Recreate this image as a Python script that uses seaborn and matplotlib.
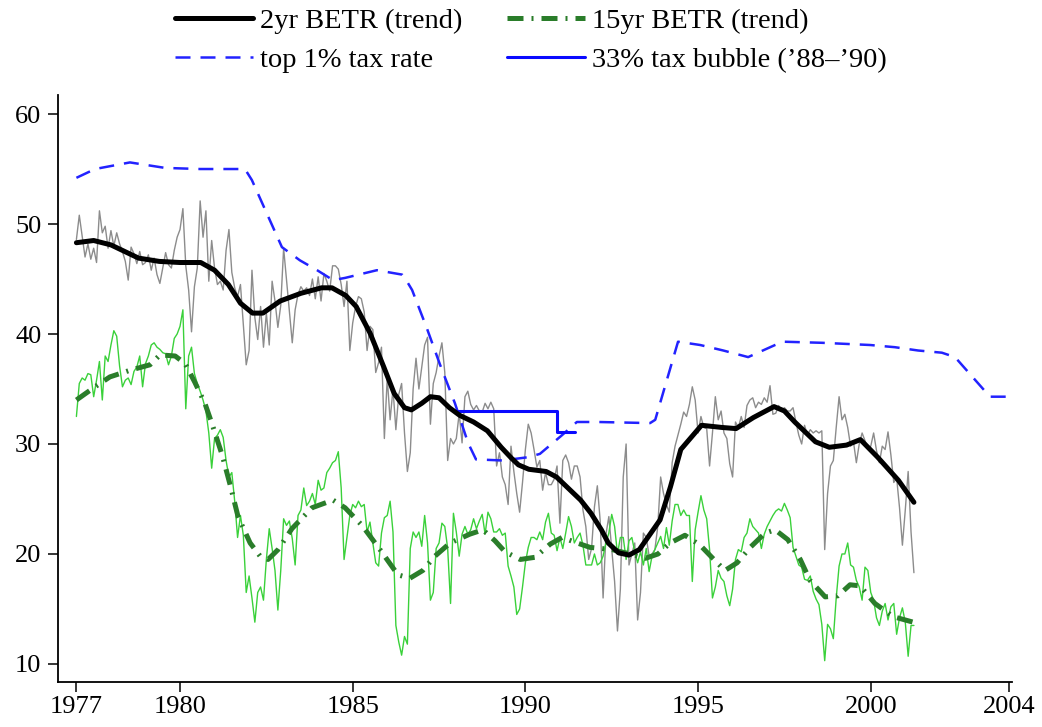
import numpy as np
import pandas as pd
import matplotlib
matplotlib.use("Agg")
import matplotlib.pyplot as plt
import seaborn as sns

sns.set_style("ticks")
plt.rcParams['font.family'] = ['Liberation Serif', 'DejaVu Serif']
plt.rcParams['text.color'] = 'black'
plt.rcParams['xtick.color'] = 'black'
plt.rcParams['ytick.color'] = 'black'
plt.rcParams['axes.labelcolor'] = 'black'

# monthly raw series, Jan 1977 .. Apr 2001
betr2_raw = [
    48.6, 50.8, 48.9, 47.0, 48.2, 46.8, 47.8, 46.5, 51.2, 49.2, 49.8, 47.8,
    49.4, 48.0, 49.2, 48.2, 47.5, 46.6, 44.9, 47.9, 47.3, 46.4, 47.5, 46.3,
    46.5, 47.2, 45.8, 46.9, 45.4, 44.6, 46.0, 47.4, 46.3, 46.0, 47.6, 48.8,
    49.5, 51.4, 46.2, 44.0, 40.2, 44.3, 46.0, 52.1, 48.8, 51.2, 44.8, 48.5,
    46.0, 44.5, 44.8, 44.0, 47.6, 49.5, 45.6, 44.2, 43.4, 44.5, 40.9, 37.2,
    38.5, 45.8, 41.5, 39.5, 42.5, 38.8, 41.9, 39.0, 44.8, 43.0, 40.6, 42.6,
    47.8, 44.9, 42.0, 39.2, 42.2, 43.6, 44.3, 43.9, 44.2, 43.5, 45.0, 43.2,
    45.2, 43.0, 45.5, 44.8, 43.9, 46.2, 46.2, 45.9, 44.5, 42.5, 44.8, 38.5,
    41.0, 42.5, 43.4, 43.2, 42.0, 38.5, 40.7, 40.4, 36.5, 37.4, 38.8, 30.5,
    36.0, 32.2, 35.0, 31.3, 34.5, 35.5, 31.0, 27.5, 29.2, 35.0, 37.8, 35.0,
    37.0, 39.0, 39.7, 31.8, 35.5, 36.5, 38.0, 39.2, 36.5, 28.5, 30.5, 30.0,
    30.5, 32.8, 30.1, 34.3, 34.8, 33.6, 33.1, 33.5, 33.0, 32.9, 33.7, 33.2,
    33.8, 33.2, 28.0, 29.2, 27.0, 26.3, 24.5, 29.8, 27.5, 25.5, 23.8, 26.5,
    29.5, 31.8, 31.0, 29.5, 27.9, 28.5, 25.8, 27.4, 26.3, 26.3, 26.8, 28.0,
    22.8, 28.5, 29.0, 28.3, 26.8, 28.0, 28.0, 27.0, 24.0, 22.5, 19.5, 20.5,
    24.3, 26.2, 23.0, 16.0, 21.8, 23.4, 20.5, 17.5, 13.0, 16.8, 27.0, 30.0,
    19.0, 20.0, 21.0, 14.0, 16.5, 21.9, 21.5, 19.8, 20.0, 20.4, 22.5, 27.0,
    25.5, 24.5, 23.8, 28.3, 29.8, 30.8, 31.8, 32.9, 32.5, 33.6, 35.2, 34.0,
    31.0, 32.5, 31.5, 31.4, 28.0, 31.0, 34.3, 32.2, 33.0, 31.0, 30.5, 28.2,
    27.0, 32.0, 31.5, 32.5, 31.5, 33.5, 34.0, 34.2, 33.3, 33.8, 33.6, 34.2,
    33.8, 35.3, 32.7, 32.8, 33.5, 33.0, 33.3, 33.0, 33.0, 33.3, 32.0, 30.8,
    30.0, 31.7, 30.8, 31.3, 31.0, 31.2, 31.0, 31.2, 20.4, 25.5, 28.0, 28.5,
    31.5, 34.3, 32.2, 32.7, 31.5, 29.8, 30.2, 28.3, 30.0, 31.0, 30.3, 29.6,
    29.8, 31.0, 29.4, 28.3, 29.8, 29.5, 31.1, 29.0, 26.5, 26.9, 24.2, 20.8,
    24.0, 27.5, 22.0, 18.3,
]

betr15_raw = [
    32.5, 35.5, 36.0, 35.8, 36.4, 36.3, 34.3, 35.8, 37.5, 34.0, 38.0, 37.5,
    39.0, 40.3, 39.8, 37.1, 35.2, 35.8, 36.0, 35.4, 36.6, 37.0, 38.0, 35.2,
    37.3, 38.0, 39.0, 39.2, 38.8, 38.6, 38.3, 38.2, 37.2, 38.0, 39.6, 40.0,
    40.7, 42.2, 33.2, 38.0, 38.8, 36.4, 35.5, 34.8, 34.0, 33.0, 31.0, 27.8,
    30.5, 30.8, 31.3, 30.6, 28.5, 27.0, 27.4, 24.8, 21.5, 23.5, 21.7, 16.5,
    18.0, 16.0, 13.8, 16.5, 17.0, 15.8, 19.5, 22.3, 20.5, 18.5, 14.9, 18.5,
    23.2, 22.6, 23.0, 21.4, 19.0, 23.5, 24.0, 26.0, 24.4, 24.8, 25.5, 24.5,
    26.7, 25.8, 26.0, 27.4, 27.8, 28.3, 28.5, 29.3, 26.0, 19.5, 21.5, 23.5,
    24.5, 24.2, 24.8, 24.3, 24.5, 22.0, 22.9, 21.0, 19.2, 18.9, 21.9, 23.3,
    23.5, 24.8, 22.0, 13.5, 12.0, 10.8, 12.5, 11.8, 20.5, 22.0, 21.5, 22.0,
    20.7, 23.5, 21.0, 15.8, 16.5, 20.5, 21.0, 22.8, 22.5, 20.5, 15.5, 23.7,
    22.0, 19.8, 21.8, 22.5, 21.8, 22.2, 23.2, 22.3, 23.0, 23.6, 21.8, 23.8,
    23.2, 22.0, 22.0, 22.3, 21.7, 21.9, 18.9, 18.0, 17.0, 14.5, 15.0, 17.0,
    19.2, 20.6, 21.5, 21.5, 21.3, 22.0, 21.3, 22.9, 23.7, 21.9, 21.7, 20.3,
    21.5, 20.5, 21.9, 23.4, 22.5, 21.0, 21.5, 21.9, 20.8, 19.0, 19.0, 19.0,
    20.0, 19.0, 19.2, 19.8, 21.0, 21.9, 23.6, 22.5, 20.0, 21.5, 21.5, 19.5,
    21.2, 21.5, 20.2, 19.2, 20.2, 19.0, 20.5, 18.4, 19.8, 20.4, 21.0, 21.6,
    20.5, 22.4, 20.8, 23.0, 24.5, 24.5, 23.5, 24.0, 23.5, 23.5, 17.5, 22.2,
    23.8, 25.3, 24.0, 23.2, 20.4, 16.0, 17.0, 18.5, 17.8, 17.5, 16.2, 15.3,
    16.8, 19.5, 20.4, 20.2, 21.5, 21.9, 23.2, 22.5, 22.2, 21.9, 20.5, 21.8,
    22.5, 23.0, 23.5, 23.9, 24.1, 23.9, 24.6, 24.0, 23.3, 20.6, 19.8, 19.0,
    18.8, 17.7, 17.6, 18.0, 16.6, 15.9, 15.4, 13.6, 10.3, 13.6, 13.2, 12.3,
    16.0, 18.9, 20.0, 20.0, 21.0, 19.0, 18.8, 17.6, 17.0, 15.8, 18.8, 18.5,
    16.5, 15.8, 14.2, 13.5, 14.8, 15.5, 14.0, 15.2, 15.5, 12.7, 14.2, 15.1,
    13.8, 10.7, 13.5, 13.5,
]

months = 1977 + np.arange(len(betr2_raw)) / 12

# trends
trend2_year = [1977.0, 1977.5, 1978.0, 1978.4, 1978.8, 1979.4, 1980.0, 1980.6, 1981.0,
               1981.4, 1981.75, 1982.1, 1982.4, 1982.9, 1983.5, 1984.1, 1984.4, 1984.8,
               1985.1, 1985.5, 1985.9, 1986.2, 1986.5, 1986.7, 1987.0, 1987.25, 1987.5,
               1987.8, 1988.1, 1988.5, 1988.9, 1989.3, 1989.6, 1989.8, 1990.1, 1990.6,
               1990.9, 1991.2, 1991.6, 1991.9, 1992.2, 1992.4, 1992.7, 1993.0, 1993.3,
               1993.9, 1994.2, 1994.5, 1995.1, 1995.7, 1996.1, 1996.6, 1997.2, 1997.5,
               1997.8, 1998.4, 1998.8, 1999.3, 1999.7, 2000.2, 2000.8, 2001.25]
trend2_val = [48.3, 48.5, 48.1, 47.5, 46.9, 46.6, 46.5, 46.5, 45.8,
              44.5, 42.8, 41.9, 41.9, 43.0, 43.7, 44.2, 44.2, 43.5,
              42.5, 40.1, 37.0, 34.6, 33.3, 33.1, 33.7, 34.3, 34.2,
              33.3, 32.6, 32.0, 31.2, 29.7, 28.7, 28.1, 27.7, 27.5,
              27.0, 26.1, 24.9, 23.7, 22.2, 21.0, 20.1, 19.9, 20.4,
              23.1, 26.1, 29.5, 31.7, 31.5, 31.4, 32.4, 33.4, 33.0,
              32.0, 30.2, 29.7, 29.9, 30.4, 28.8, 26.7, 24.7]

trend15_year = [1977.0, 1977.54, 1977.97, 1978.55, 1979.13, 1979.42, 1979.86, 1980.15,
                1980.43, 1980.72, 1980.93, 1981.22, 1981.45, 1981.68, 1982.03, 1982.32,
                1982.55, 1982.84, 1983.24, 1983.82, 1984.43, 1984.78, 1985.27, 1985.79,
                1986.31, 1986.66, 1987.03, 1987.38, 1987.82, 1988.39, 1988.77, 1989.12,
                1989.41, 1989.85, 1990.28, 1990.72, 1991.06, 1991.5, 1991.87, 1992.51,
                1993.03, 1993.47, 1993.84, 1994.19, 1994.62, 1995.06, 1995.49, 1995.78,
                1996.13, 1996.51, 1996.94, 1997.23, 1997.6, 1997.96, 1998.24, 1998.68,
                1999.05, 1999.4, 1999.69, 2000.12, 2000.65, 2001.23]
trend15_val = [34.0, 35.2, 36.1, 36.7, 37.2, 38.1, 38.0, 37.3,
               35.6, 33.7, 31.8, 29.0, 26.3, 23.4, 21.0, 19.8,
               19.5, 20.4, 22.3, 24.2, 24.9, 24.2, 22.6, 20.4,
               18.1, 17.8, 18.5, 19.8, 21.0, 21.8, 22.2, 21.2,
               20.2, 19.5, 19.7, 20.9, 21.5, 21.0, 20.6, 20.4,
               20.0, 19.6, 20.0, 21.0, 21.7, 20.8, 19.4, 18.5,
               19.2, 20.6, 21.9, 22.2, 21.3, 19.5, 17.6, 16.1,
               16.2, 17.2, 17.1, 15.5, 14.3, 13.8]

# top 1% marginal tax rate
top1_year = [1977.0, 1977.54, 1978.55, 1979.57, 1980.58, 1981.88, 1982.08, 1982.95,
             1983.47, 1983.97, 1984.43, 1984.78, 1985.7, 1986.43, 1986.51, 1986.72,
             1987.15, 1987.53, 1987.96, 1988.34, 1988.57, 1989.35, 1990.08, 1990.42,
             1991.06, 1991.49, 1992.1, 1993.61, 1993.76, 1994.42, 1995.06, 1995.73,
             1996.45, 1997.23, 1997.46, 1998.59, 1999.98, 2000.7, 2001.37, 2002.06,
             2002.44, 2003.45, 2003.92]
top1_val = [54.2, 55.0, 55.6, 55.1, 55.0, 55.0, 54.0, 47.9,
            46.7, 45.8, 44.9, 45.1, 45.8, 45.4, 45.1, 44.0,
            40.5, 37.2, 33.7, 30.1, 28.6, 28.5, 28.8, 29.1,
            30.8, 32.0, 32.0, 31.9, 32.2, 39.3, 39.0, 38.5,
            37.9, 39.0, 39.3, 39.2, 39.0, 38.8, 38.5, 38.3,
            37.9, 34.3, 34.3]

bubble_year = [1988.0, 1990.92, 1990.92, 1991.44]
bubble_val = [33.0, 33.0, 31.1, 31.1]

raw = pd.DataFrame({'month': months, 'betr2': betr2_raw, 'betr15': betr15_raw})

fig = plt.figure(figsize=(10.42, 7.27), dpi=100)
ax = fig.add_axes([58 / 1042, 1 - 682 / 727, (1012 - 58) / 1042, (682 - 95) / 727])

sns.lineplot(data=raw, x='month', y='betr2', ax=ax, color='#8c8c8c', lw=1.0,
             estimator=None, sort=False)
sns.lineplot(data=raw, x='month', y='betr15', ax=ax, color='#3ad13a', lw=1.0,
             estimator=None, sort=False)
sns.lineplot(x=top1_year, y=top1_val, ax=ax, color='#2222ff', lw=1.8,
             linestyle=(0, (6, 4)), estimator=None, sort=False, label='top 1% tax rate')
sns.lineplot(x=bubble_year, y=bubble_val, ax=ax, color='#0a0aff', lw=2.2,
             estimator=None, sort=False, label='33% tax bubble (\u201988\u2013\u201990)')
sns.lineplot(x=trend15_year, y=trend15_val, ax=ax, color='#2a7d2a', lw=3.6,
             linestyle=(0, (3.2, 1.6, 0.4, 1.6)), estimator=None, sort=False,
             dash_joinstyle='round', label='15yr BETR (trend)')
sns.lineplot(x=trend2_year, y=trend2_val, ax=ax, color='black', lw=3.6,
             estimator=None, sort=False, solid_joinstyle='round',
             label='2yr BETR (trend)')

ax.set_xlim(1976.467, 2004.09)
ax.set_ylim(8.36, 61.73)
ax.set_xticks([1977, 1980, 1985, 1990, 1995, 2000, 2004])
ax.set_yticks([10, 20, 30, 40, 50, 60])
ax.set_xlabel('')
ax.set_ylabel('')
ax.tick_params(axis='both', labelsize=19, length=7, width=1.1, color='black',
               labelcolor='black', direction='out')
ax.tick_params(axis='y', pad=5)
ax.tick_params(axis='x', pad=3)
for s in ['top', 'right']:
    ax.spines[s].set_visible(False)
for s in ['left', 'bottom']:
    ax.spines[s].set_linewidth(1.3)
    ax.spines[s].set_color('black')

handles, labels = ax.get_legend_handles_labels()
lookup = dict(zip(labels, handles))
order = ['2yr BETR (trend)', 'top 1% tax rate', '15yr BETR (trend)',
         '33% tax bubble (\u201988\u2013\u201990)']
ax.legend([lookup[k] for k in order], order, ncol=2, frameon=False,
          loc='upper center', bbox_to_anchor=(531 / 1042, 1 - 8 / 727),
          bbox_transform=fig.transFigure, fontsize=20.5, handlelength=2.75,
          handletextpad=0.25, columnspacing=1.55, labelspacing=0.45,
          borderpad=0, borderaxespad=0, labelcolor='black')

fig.savefig('out.png', dpi=100)
